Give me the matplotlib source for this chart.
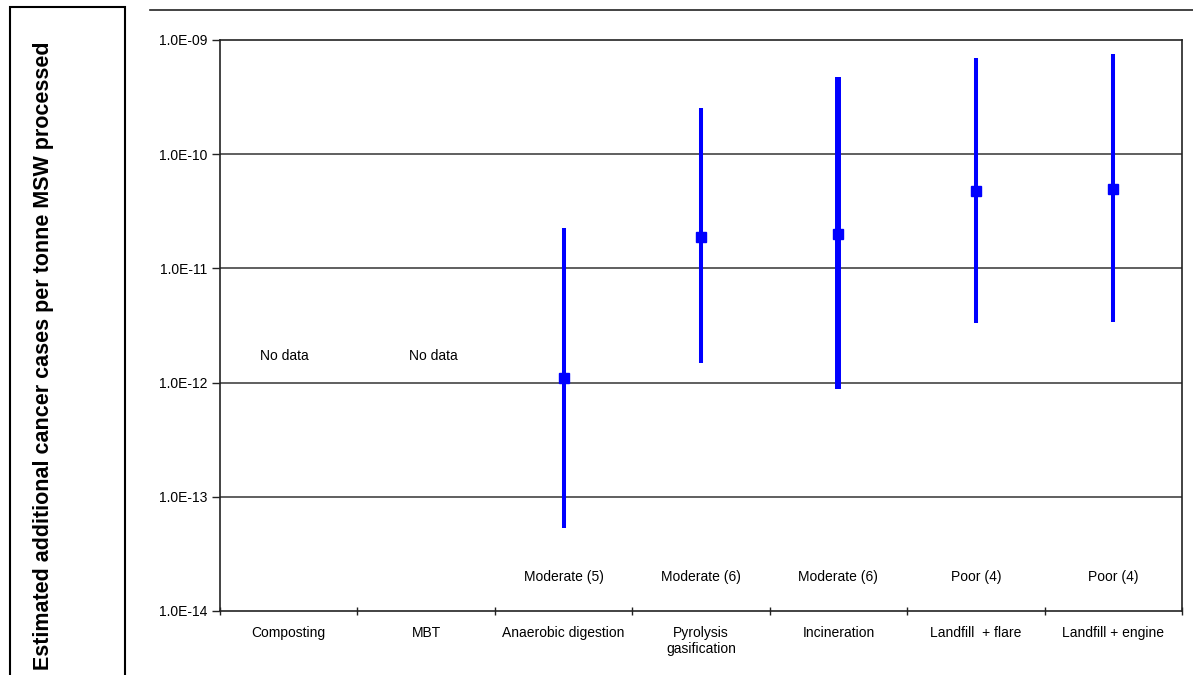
import numpy as np
import matplotlib
matplotlib.use('Agg')
import matplotlib.pyplot as plt
from matplotlib.ticker import FixedLocator, NullFormatter

plt.rcParams['font.family'] = ['Liberation Sans', 'DejaVu Sans']

# Дані
categories = ['Composting', 'MBT', 'Anaerobic digestion', 'Pyrolysis\ngasification',
              'Incineration', 'Landfill  + flare', 'Landfill + engine']
central = [None, None, 1.1e-12, 1.88e-11, 2.0e-11, 4.8e-11, 5.0e-11]
lower = [None, None, 5.3e-14, 1.48e-12, 8.8e-13, 3.3e-12, 3.4e-12]
upper = [None, None, 2.26e-11, 2.54e-10, 4.7e-10, 6.95e-10, 7.5e-10]
quality = [None, None, 'Moderate (5)', 'Moderate (6)', 'Moderate (6)', 'Poor (4)', 'Poor (4)']
bar_widths = [0, 0, 2.9, 2.9, 4.3, 2.9, 2.9]
no_data_level = 1.7e-12
quality_level = 2.0e-14
y_ticks = [1e-14, 1e-13, 1e-12, 1e-11, 1e-10, 1e-9]
y_tick_labels = ['1.0E-14', '1.0E-13', '1.0E-12', '1.0E-11', '1.0E-10', '1.0E-09']

fig = plt.figure(figsize=(11.93, 6.75), dpi=100)
ax = fig.add_axes([220 / 1193, 1 - 611 / 675, 962 / 1193, 571 / 675])

x = np.arange(len(categories))
for i in range(len(categories)):
    if central[i] is None:
        ax.text(x[i] - 0.03 if i == 0 else x[i] + 0.05, no_data_level, 'No data',
                ha='center', va='center', fontsize=10)
        continue
    ax.plot([x[i], x[i]], [lower[i], upper[i]], color='#0000ff',
            linewidth=bar_widths[i], solid_capstyle='butt', zorder=3)
    ax.plot(x[i], central[i], 's', color='#0000ff', markersize=7.5, zorder=4)
    ax.text(x[i], quality_level, quality[i], ha='center', va='center', fontsize=10)

ax.set_yscale('log')
ax.set_ylim(1e-14, 1e-9)
ax.set_xlim(-0.5, len(categories) - 0.5)
ax.yaxis.set_major_locator(FixedLocator(y_ticks))
ax.set_yticklabels(y_tick_labels, fontsize=10)
ax.yaxis.set_minor_formatter(NullFormatter())
ax.tick_params(axis='y', which='minor', length=0)
ax.tick_params(axis='y', which='major', length=6, width=1, color='#222222', pad=3)

# поділки між категоріями, підписи по центру
ax.xaxis.set_major_locator(FixedLocator(np.arange(len(categories) + 1) - 0.5))
ax.xaxis.set_major_formatter(NullFormatter())
ax.xaxis.set_minor_locator(FixedLocator(x))
ax.set_xticklabels(categories, minor=True, fontsize=10, va='top', ha='center')
ax.tick_params(axis='x', which='minor', length=0, pad=11)
ax.tick_params(axis='x', which='major', length=6, width=1, direction='inout', color='#222222')

for yt in y_ticks[1:-1]:
    ax.axhline(yt, color='#444444', linewidth=1.2, zorder=1)
for s in ax.spines.values():
    s.set_color('#222222')
    s.set_linewidth(1.2)

# рамка з підписом осі Y
fig.patches.append(plt.Rectangle((10 / 1193, -0.01), 115 / 1193, 1 - 7 / 675 + 0.01,
                                 transform=fig.transFigure, fill=False,
                                 edgecolor='black', linewidth=1.5))
fig.text(44 / 1193, 1 - 356 / 675, 'Estimated additional cancer cases per tonne MSW processed',
         rotation=90, ha='center', va='center', fontsize=15.5, fontweight='bold')
fig.add_artist(plt.Line2D([150 / 1193, 1], [1 - 10 / 675, 1 - 10 / 675],
                          transform=fig.transFigure, color='#222222', linewidth=1.2))

fig.savefig('out.png', dpi=100)
